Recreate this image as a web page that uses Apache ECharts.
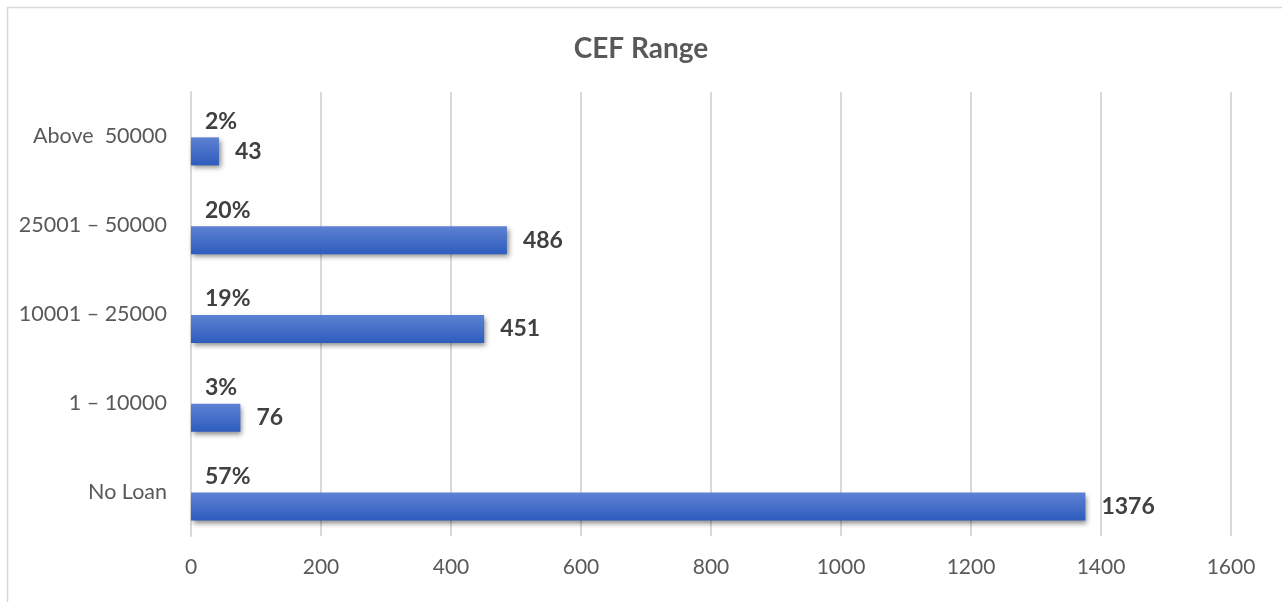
<!DOCTYPE html>
<html>
<head>
<meta charset="utf-8">
<script src="https://cdn.jsdelivr.net/npm/echarts@6/dist/echarts.min.js"></script>
<style>
  html, body { margin: 0; padding: 0; background: #ffffff; }
  #chart { width: 1282px; height: 602px; }
</style>
</head>
<body>
<div id="chart"></div>
<script>
// CEF loan ranges, bottom to top
const categories = ['No Loan', '1 – 10000', '10001 – 25000', '25001 – 50000', 'Above  50000'];
const counts = [1376, 76, 451, 486, 43];
const shares = ['57%', '3%', '19%', '20%', '2%'];
const xTicks = { min: 0, max: 1600, interval: 200 };

const FONT = 'Lato, "Open Sans", sans-serif';
const chart = echarts.init(document.getElementById('chart'), null, { renderer: 'canvas' });

chart.setOption({
  backgroundColor: '#ffffff',
  animation: false,
  title: {
    text: 'CEF Range',
    left: 'center',
    top: 30,
    textStyle: { fontFamily: FONT, fontSize: 28, fontWeight: 'bold', color: '#595959' }
  },
  graphic: [{
    type: 'rect',
    shape: { x: 7.5, y: 7.5, width: 1290, height: 610 },
    style: { fill: 'none', stroke: '#d9d9d9', lineWidth: 1.5 },
    silent: true,
    z: -1
  }],
  grid: { left: 191, right: 51, top: 92, bottom: 66, containLabel: false },
  xAxis: {
    type: 'value',
    min: xTicks.min,
    max: xTicks.max,
    interval: xTicks.interval,
    axisLine: { show: false },
    axisTick: { show: false },
    axisLabel: {
      margin: 21,
      formatter: v => String(v),
      fontFamily: FONT, fontSize: 21, color: '#595959'
    },
    splitLine: { lineStyle: { color: '#d9d9d9', width: 2 } }
  },
  yAxis: {
    type: 'category',
    data: categories,
    axisLine: { lineStyle: { color: '#d9d9d9', width: 2 } },
    axisTick: { show: false },
    axisLabel: { margin: 24, fontFamily: FONT, fontSize: 21.5, color: '#595959' }
  },
  series: [
    {
      // share of total, shown as a label in the upper slot of each band
      name: 'share',
      type: 'bar',
      data: counts,
      barWidth: 28,
      barGap: '7%',
      itemStyle: { color: 'rgba(0,0,0,0)' },
      label: {
        show: true,
        position: 'insideLeft',
        distance: 14,
        formatter: p => shares[p.dataIndex],
        fontFamily: FONT, fontSize: 23, fontWeight: 'bold', color: '#404040'
      },
      silent: true
    },
    {
      name: 'count',
      type: 'bar',
      data: counts,
      barWidth: 28,
      itemStyle: {
        color: new echarts.graphic.LinearGradient(0, 0, 0, 1, [
          { offset: 0, color: '#5e82d2' },
          { offset: 1, color: '#2d5cbd' }
        ]),
        shadowColor: 'rgba(0,0,0,0.45)',
        shadowBlur: 5,
        shadowOffsetX: 2,
        shadowOffsetY: 3
      },
      label: {
        show: true,
        position: 'right',
        distance: 16,
        fontFamily: FONT, fontSize: 23, fontWeight: 'bold', color: '#404040'
      }
    }
  ]
});
</script>
</body>
</html>
